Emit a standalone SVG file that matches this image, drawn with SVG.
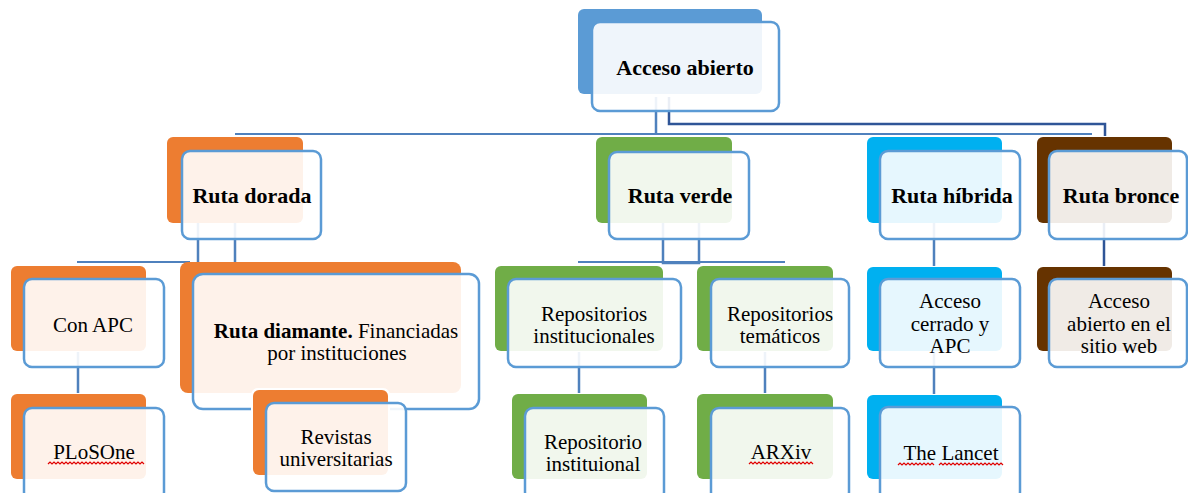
<svg xmlns="http://www.w3.org/2000/svg" width="1188" height="493" viewBox="0 0 1188 493">
<style>
  text { font-family: "Liberation Serif", "Times New Roman", serif; fill: #000; }
  .t { font-size: 21px; text-anchor: middle; }
  .h { font-size: 22px; font-weight: bold; text-anchor: middle; }
  .front { fill: #fff; fill-opacity: 0.9; stroke: #5B9BD5; stroke-width: 2.5; }
  .b-blue { fill: #5B9BD5; }
  .b-orange { fill: #ED7D31; }
  .b-green { fill: #70AD47; }
  .b-cyan { fill: #00B0F0; }
  .b-brown { fill: #663300; }
  .conn { stroke: #4F81BD; stroke-width: 2.5; fill: none; }
  .conn-thin { stroke: #4F81BD; stroke-width: 2; fill: none; }
  .conn-dark { stroke: #2F5597; stroke-width: 2.5; fill: none; }
  .wavy { stroke: #E00000; stroke-width: 1.2; fill: none; }
</style>

<g id="connectors">
  <!-- root -->
  <path class="conn" d="M656,97 V135"/>
  <path class="conn-thin" d="M235,134 H1092"/>
  <path class="conn-dark" d="M669,97 V124 H1105 V136"/>
  <!-- Ruta dorada -->
  <path class="conn" d="M198,223 V262 M235,223 V262"/>
  <path class="conn-thin" d="M77,262 H190"/>
  <path class="conn" d="M78,352 V393"/>
  <!-- Ruta verde -->
  <path class="conn" d="M663,223 V263 H699 V223"/>
  <path class="conn-thin" d="M578,262 H785"/>
  <path class="conn" d="M579,352 V393"/>
  <path class="conn" d="M765,352 V393"/>
  <!-- Ruta hibrida -->
  <path class="conn" d="M934,223 V266"/>
  <path class="conn" d="M934,352 V394"/>
  <!-- Ruta bronce -->
  <path class="conn-dark" d="M1104,223 V266"/>
</g>

<g id="acceso-abierto">
  <rect class="b-blue" x="578" y="9" width="184" height="85" rx="6"/>
  <rect class="front" x="592" y="22" width="187" height="89" rx="8"/>
  <text class="h" x="685" y="75" font-size="21">Acceso abierto</text>
</g>

<g id="ruta-dorada">
  <rect class="b-orange" x="167" y="137" width="136" height="86" rx="6"/>
  <rect class="front" x="182" y="151" width="139" height="88" rx="8"/>
  <text class="h" x="252" y="203">Ruta dorada</text>
</g>

<g id="con-apc">
  <rect class="b-orange" x="11" y="266" width="135" height="85" rx="6"/>
  <rect class="front" x="24" y="279" width="140" height="88" rx="8"/>
  <text class="t" x="93" y="332">Con APC</text>
</g>

<g id="plosone">
  <rect class="b-orange" x="11" y="394" width="135" height="85" rx="6"/>
  <rect class="front" x="24" y="408" width="140" height="92" rx="8"/>
  <text class="t" x="94" y="459">PLoSOne</text>
  <path class="wavy" d="M48,464 l2,-2 l2,2 l2,-2 l2,2 l2,-2 l2,2 l2,-2 l2,2 l2,-2 l2,2 l2,-2 l2,2 l2,-2 l2,2 l2,-2 l2,2 l2,-2 l2,2 l2,-2 l2,2 l2,-2 l2,2 l2,-2 l2,2 l2,-2 l2,2 l2,-2 l2,2 l2,-2 l2,2 l2,-2 l2,2 l2,-2 l2,2 l2,-2 l2,2 l2,-2 l2,2 l2,-2 l2,2 l2,-2 l2,2 l2,-2 l2,2 l2,-2 l2,2 l2,-2 l2,2"/>
</g>

<g id="ruta-diamante">
  <rect class="b-orange" x="180" y="262" width="281" height="131" rx="8"/>
  <rect class="front" x="193" y="274" width="286" height="135" rx="10"/>
  <text class="t" x="336" y="338"><tspan font-weight="bold">Ruta diamante.</tspan> Financiadas</text>
  <text class="t" x="337" y="360">por instituciones</text>
</g>

<g id="revistas-universitarias">
  <rect x="251" y="388" width="139" height="89" rx="7" fill="#fff"/>
  <rect class="b-orange" x="253" y="390" width="135" height="85" rx="6"/>
  <rect class="front" x="266" y="403" width="140" height="88" rx="8"/>
  <text class="t" x="336" y="444">Revistas</text>
  <text class="t" x="336" y="466">universitarias</text>
</g>

<g id="ruta-verde">
  <rect class="b-green" x="596" y="137" width="136" height="86" rx="6"/>
  <rect class="front" x="609" y="152" width="140" height="87" rx="8"/>
  <text class="h" x="680" y="203">Ruta verde</text>
</g>

<g id="repositorios-institucionales">
  <rect class="b-green" x="495" y="266" width="168" height="85" rx="6"/>
  <rect class="front" x="508" y="279" width="173" height="88" rx="8"/>
  <text class="t" x="594" y="321">Repositorios</text>
  <text class="t" x="594" y="343">institucionales</text>
</g>

<g id="repositorio-instituional">
  <rect class="b-green" x="512" y="394" width="135" height="85" rx="6"/>
  <rect class="front" x="525" y="408" width="139" height="92" rx="8"/>
  <text class="t" x="593" y="449">Repositorio</text>
  <text class="t" x="593" y="471">instituional</text>
</g>

<g id="repositorios-tematicos">
  <rect class="b-green" x="697" y="266" width="136" height="85" rx="6"/>
  <rect class="front" x="711" y="279" width="138" height="88" rx="8"/>
  <text class="t" x="780" y="321">Repositorios</text>
  <text class="t" x="780" y="343">temáticos</text>
</g>

<g id="arxiv">
  <rect class="b-green" x="697" y="394" width="136" height="85" rx="6"/>
  <rect class="front" x="711" y="408" width="138" height="92" rx="8"/>
  <text class="t" x="781" y="459">ARXiv</text>
  <path class="wavy" d="M749,464 l2,-2 l2,2 l2,-2 l2,2 l2,-2 l2,2 l2,-2 l2,2 l2,-2 l2,2 l2,-2 l2,2 l2,-2 l2,2 l2,-2 l2,2 l2,-2 l2,2 l2,-2 l2,2 l2,-2 l2,2 l2,-2 l2,2 l2,-2 l2,2 l2,-2 l2,2 l2,-2 l2,2 l2,-2 l2,2"/>
</g>

<g id="ruta-hibrida">
  <rect class="b-cyan" x="867" y="137" width="135" height="86" rx="6"/>
  <rect class="front" x="880" y="151" width="140" height="88" rx="8"/>
  <text class="h" x="952" y="203">Ruta híbrida</text>
</g>

<g id="acceso-cerrado-apc">
  <rect class="b-cyan" x="867" y="267" width="135" height="84" rx="6"/>
  <rect class="front" x="880" y="279" width="140" height="88" rx="8"/>
  <text class="t" x="950" y="308">Acceso</text>
  <text class="t" x="950" y="331">cerrado y</text>
  <text class="t" x="950" y="353">APC</text>
</g>

<g id="the-lancet">
  <rect class="b-cyan" x="867" y="395" width="135" height="84" rx="6"/>
  <rect class="front" x="880" y="407" width="140" height="93" rx="8"/>
  <text class="t" x="951" y="460">The Lancet</text>
  <path class="wavy" d="M898,465 l2,-2 l2,2 l2,-2 l2,2 l2,-2 l2,2 l2,-2 l2,2 l2,-2 l2,2 l2,-2 l2,2 l2,-2 l2,2 l2,-2 l2,2 l2,-2 l2,2"/>
  <path class="wavy" d="M939,465 l2,-2 l2,2 l2,-2 l2,2 l2,-2 l2,2 l2,-2 l2,2 l2,-2 l2,2 l2,-2 l2,2 l2,-2 l2,2 l2,-2 l2,2 l2,-2 l2,2 l2,-2 l2,2 l2,-2 l2,2 l2,-2 l2,2 l2,-2 l2,2 l2,-2 l2,2 l2,-2 l2,2 l2,-2 l2,2"/>
</g>

<g id="ruta-bronce">
  <rect class="b-brown" x="1037" y="137" width="135" height="86" rx="6"/>
  <rect class="front" x="1049" y="151" width="138" height="88" rx="8"/>
  <text class="h" x="1121" y="203">Ruta bronce</text>
</g>

<g id="acceso-abierto-sitio-web">
  <rect class="b-brown" x="1037" y="267" width="135" height="84" rx="6"/>
  <rect class="front" x="1049" y="279" width="138" height="88" rx="8"/>
  <text class="t" x="1119" y="308">Acceso</text>
  <text class="t" x="1119" y="331">abierto en el</text>
  <text class="t" x="1119" y="353">sitio web</text>
</g>
</svg>
